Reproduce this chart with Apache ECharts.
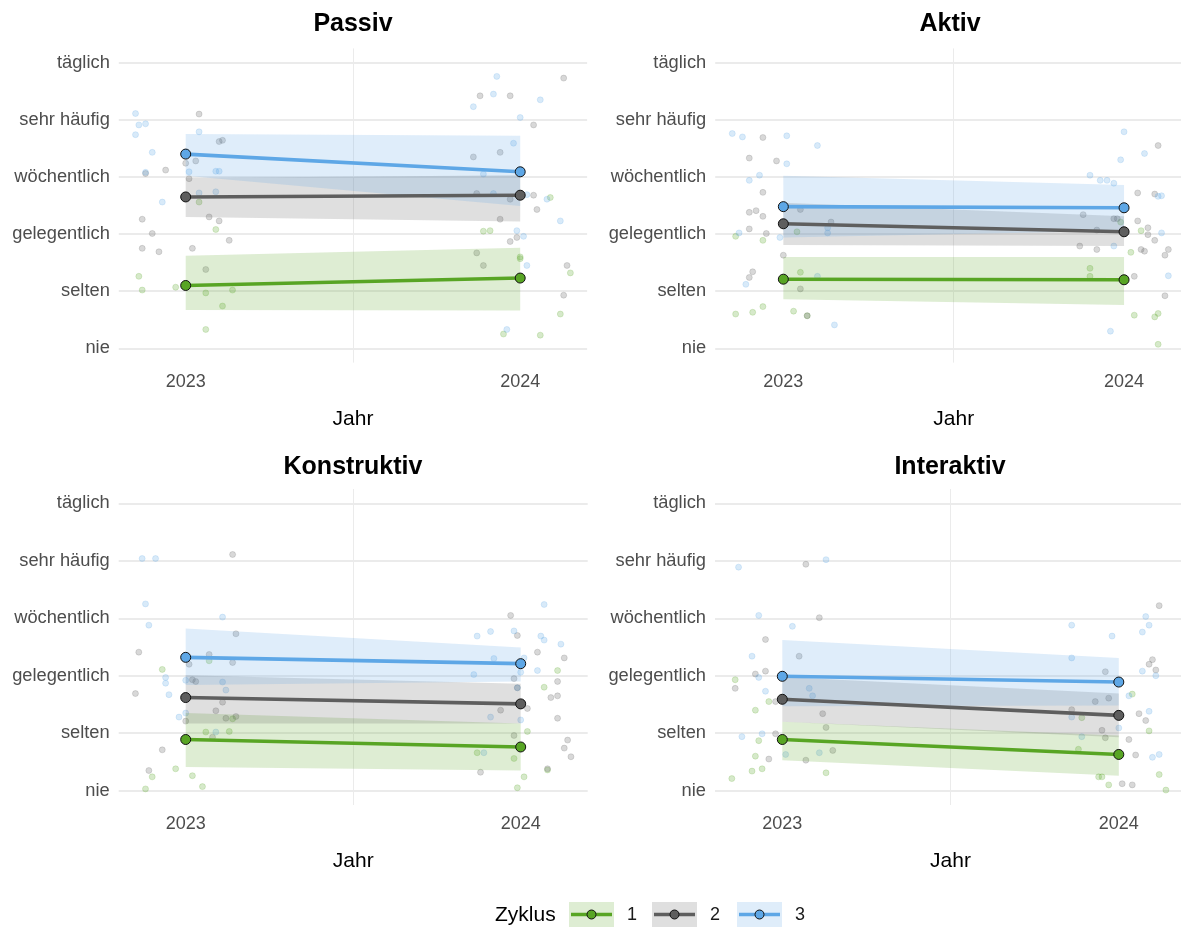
<!DOCTYPE html>
<html>
<head>
<meta charset="utf-8">
<script src="https://cdn.jsdelivr.net/npm/echarts@6/dist/echarts.min.js"></script>
<style>
  html, body { margin: 0; padding: 0; background: #ffffff; }
  #chart { width: 1181px; height: 928px; }
</style>
</head>
<body>
<div id="chart"></div>
<script>
// Frequency scale (1 = nie ... 6 = täglich)
const levels = ['nie', 'selten', 'gelegentlich', 'wöchentlich', 'sehr häufig', 'täglich'];
const years = [2023, 2024];
const cycles = ['1', '2', '3'];
const panelTitles = ['Passiv', 'Aktiv', 'Konstruktiv', 'Interaktiv'];

// Model estimates per cycle (rows: Zyklus 1, 2, 3; columns: 2023, 2024)
const passivMean  = [[2.10, 2.23], [3.65, 3.68], [4.40, 4.09]];
const passivLower = [[1.67, 1.66], [3.30, 3.22], [4.02, 3.49]];
const passivUpper = [[2.62, 2.76], [3.98, 4.03], [4.75, 4.72]];

const aktivMean  = [[2.21, 2.20], [3.18, 3.04], [3.48, 3.46]];
const aktivLower = [[1.86, 1.76], [2.81, 2.79], [2.94, 3.06]];
const aktivUpper = [[2.60, 2.60], [3.55, 3.31], [4.02, 3.86]];

const konstrMean  = [[1.89, 1.76], [2.62, 2.51], [3.32, 3.21]];
const konstrLower = [[1.41, 1.35], [2.17, 2.17], [2.84, 2.90]];
const konstrUpper = [[2.35, 2.17], [3.01, 2.86], [3.82, 3.49]];

const interMean  = [[1.89, 1.63], [2.59, 2.31], [2.99, 2.89]];
const interLower = [[1.53, 1.26], [2.20, 1.93], [2.47, 2.48]];
const interUpper = [[2.20, 1.96], [2.98, 2.69], [3.62, 3.31]];

// Individual (jittered) responses: [Jahr, Häufigkeit]
const passivPoints1 = [[2022.86,2.26],[2022.87,2.02],[2022.97,2.07],[2023.04,3.56],[2023.09,3.08],[2023.06,1.97],[2023.11,1.74],[2023.14,2.02],[2023.06,1.33],[2023.89,3.05],[2023.91,3.06],[2024.09,3.64],[2024.00,2.60],[2024.00,2.57],[2024.15,2.32],[2024.12,1.60],[2023.95,1.25],[2024.06,1.23]];
const passivPoints2 = [[2023.04,5.10],[2023.10,4.62],[2023.11,4.64],[2023.00,4.24],[2023.03,4.28],[2022.88,4.06],[2022.94,4.12],[2023.01,3.97],[2022.87,3.26],[2022.90,3.01],[2022.87,2.75],[2022.92,2.69],[2023.02,2.75],[2023.07,3.30],[2023.10,3.23],[2023.13,2.89],[2023.06,2.38],[2023.88,5.42],[2023.97,5.42],[2024.13,5.73],[2024.04,4.91],[2023.94,4.43],[2023.86,4.35],[2023.87,3.71],[2023.97,3.61],[2024.04,3.68],[2024.05,3.43],[2023.94,3.26],[2023.97,2.87],[2023.99,2.94],[2023.87,2.67],[2023.89,2.45],[2024.14,2.45],[2024.13,1.93]];
const passivPoints3 = [[2022.85,5.11],[2022.86,4.91],[2022.88,4.93],[2022.85,4.74],[2022.90,4.43],[2022.88,4.08],[2022.93,3.56],[2023.04,4.79],[2023.01,4.09],[2023.09,4.10],[2023.10,4.10],[2023.04,3.72],[2023.09,3.74],[2023.93,5.76],[2023.92,5.45],[2023.86,5.23],[2024.00,5.04],[2024.06,5.35],[2023.98,4.59],[2023.89,4.05],[2023.92,3.71],[2024.02,3.69],[2024.08,3.61],[2024.12,3.23],[2023.99,3.06],[2024.01,2.96],[2024.02,2.45],[2023.96,1.33]];

const aktivPoints1 = [[2022.86,2.96],[2022.94,2.89],[2023.04,3.04],[2023.05,2.33],[2022.86,1.60],[2022.91,1.63],[2022.94,1.73],[2023.03,1.65],[2023.07,1.57],[2023.90,2.40],[2023.90,2.26],[2024.05,3.06],[2024.02,2.68],[2024.03,1.58],[2024.09,1.55],[2024.10,1.61],[2024.10,1.07],[2023.99,3.21]];
const aktivPoints2 = [[2022.94,4.69],[2022.90,4.33],[2022.98,4.28],[2022.94,3.73],[2022.90,3.38],[2022.92,3.41],[2022.94,3.31],[2022.90,3.09],[2022.95,3.01],[2023.05,3.43],[2023.14,3.21],[2023.00,2.63],[2022.91,2.34],[2022.90,2.24],[2023.05,2.04],[2023.07,1.57],[2024.10,4.55],[2024.04,3.72],[2024.09,3.70],[2023.88,3.34],[2023.97,3.27],[2023.98,3.27],[2024.04,3.23],[2024.07,3.11],[2024.07,2.99],[2024.09,2.89],[2023.87,2.79],[2023.92,2.73],[2024.05,2.73],[2024.06,2.70],[2024.13,2.73],[2024.12,2.63],[2024.03,2.26],[2024.12,1.92],[2023.92,3.07]];
const aktivPoints3 = [[2022.85,4.76],[2022.88,4.70],[2023.01,4.72],[2023.10,4.55],[2023.01,4.23],[2022.93,4.03],[2022.90,3.94],[2022.87,3.02],[2022.99,2.94],[2023.13,3.11],[2023.13,3.02],[2023.10,2.26],[2022.89,2.12],[2023.15,1.41],[2024.00,4.79],[2023.99,4.30],[2024.06,4.41],[2023.90,4.03],[2023.93,3.94],[2023.95,3.94],[2023.97,3.89],[2024.11,3.67],[2024.10,3.66],[2024.11,3.02],[2023.97,2.79],[2024.13,2.27],[2023.96,1.30]];

const konstrPoints1 = [[2022.93,3.11],[2023.07,3.26],[2023.06,2.02],[2023.13,2.03],[2023.14,2.25],[2022.97,1.38],[2023.02,1.26],[2022.90,1.24],[2022.88,1.03],[2023.05,1.07],[2023.87,1.66],[2023.98,1.56],[2024.11,3.09],[2024.07,2.80],[2024.02,2.03],[2024.01,1.24],[2023.99,1.05],[2024.08,1.36]];
const konstrPoints2 = [[2023.14,5.11],[2022.86,3.41],[2022.85,2.69],[2023.15,3.73],[2023.07,3.37],[2023.01,3.20],[2023.02,2.93],[2023.03,2.90],[2023.14,3.23],[2023.09,2.39],[2023.11,2.54],[2023.12,2.26],[2023.15,2.29],[2023.00,2.21],[2023.08,1.93],[2022.93,1.71],[2022.89,1.35],[2023.97,4.05],[2023.99,3.70],[2024.05,3.41],[2024.13,3.31],[2024.11,2.90],[2024.11,2.65],[2024.09,2.62],[2023.98,2.95],[2023.99,2.79],[2023.94,2.40],[2024.02,2.43],[2024.11,2.26],[2024.14,1.88],[2024.13,1.74],[2024.15,1.59],[2023.98,1.96],[2023.88,1.32],[2024.08,1.38]];
const konstrPoints3 = [[2022.87,5.04],[2022.91,5.04],[2022.88,4.25],[2022.89,3.88],[2023.11,4.02],[2022.94,2.97],[2022.94,2.87],[2022.95,2.67],[2023.00,2.92],[2023.11,2.89],[2023.12,2.75],[2023.00,2.35],[2022.98,2.28],[2023.09,2.02],[2023.87,3.69],[2023.91,3.77],[2023.98,3.78],[2024.06,3.69],[2024.07,3.62],[2024.12,3.55],[2024.07,4.24],[2023.92,3.30],[2023.86,3.02],[2024.00,3.06],[2023.99,2.79],[2023.91,2.28],[2024.00,2.23],[2023.89,1.66],[2024.05,3.09],[2024.01,3.31]];

const interPoints1 = [[2022.86,2.93],[2022.92,2.40],[2022.96,2.55],[2022.93,1.87],[2022.92,1.60],[2022.91,1.34],[2022.94,1.38],[2022.85,1.21],[2023.13,1.31],[2024.04,2.68],[2024.09,2.04],[2023.88,1.72],[2023.94,1.24],[2023.95,1.24],[2023.97,1.10],[2024.12,1.28],[2024.14,1.01],[2023.89,2.27]];
const interPoints2 = [[2023.07,4.94],[2023.11,4.01],[2022.95,3.63],[2023.05,3.34],[2022.92,3.03],[2022.95,3.08],[2022.86,2.78],[2022.98,2.55],[2023.12,2.34],[2023.13,2.10],[2022.98,1.99],[2022.96,1.55],[2023.07,1.53],[2023.15,1.70],[2024.12,4.22],[2024.10,3.28],[2024.09,3.20],[2024.11,3.10],[2023.96,3.07],[2023.93,2.55],[2023.97,2.61],[2023.86,2.41],[2024.06,2.34],[2024.08,2.22],[2023.95,2.05],[2023.96,1.92],[2024.03,1.89],[2024.05,1.62],[2024.01,1.12],[2024.04,1.10]];
const interPoints3 = [[2022.87,4.89],[2023.13,5.02],[2022.93,4.05],[2023.03,3.86],[2022.91,3.34],[2022.93,2.97],[2022.95,2.73],[2023.08,2.78],[2023.09,2.65],[2022.88,1.94],[2022.94,1.99],[2023.01,1.63],[2023.11,1.66],[2023.86,3.88],[2023.98,3.69],[2023.86,3.31],[2024.08,4.03],[2024.09,3.88],[2024.07,3.76],[2024.07,3.08],[2024.11,3.00],[2024.03,2.65],[2024.09,2.38],[2023.86,2.28],[2024.00,2.09],[2023.89,1.94],[2024.10,1.58],[2024.12,1.63]];

// Colours per Zyklus
const cycleColors = ['#58a524', '#5e5e5e', '#5ea7e6'];
const bandColors  = ['rgba(88,165,36,0.2)', 'rgba(94,94,94,0.2)', 'rgba(94,167,230,0.2)'];
const pointColors = ['rgba(88,165,36,0.3)', 'rgba(94,94,94,0.3)', 'rgba(94,167,230,0.3)'];

const panels = [
  { mean: passivMean, lower: passivLower, upper: passivUpper, points: [passivPoints1, passivPoints2, passivPoints3] },
  { mean: aktivMean,  lower: aktivLower,  upper: aktivUpper,  points: [aktivPoints1, aktivPoints2, aktivPoints3] },
  { mean: konstrMean, lower: konstrLower, upper: konstrUpper, points: [konstrPoints1, konstrPoints2, konstrPoints3] },
  { mean: interMean,  lower: interLower,  upper: interUpper,  points: [interPoints1, interPoints2, interPoints3] }
];

// Panel layout (pixels); the right-hand panels run slightly past the canvas edge
const gridBoxes = [
  { left: 118.8, top: 48.4, width: 468.3, height: 314.2 },
  { left: 715.2, top: 48.4, width: 477.0, height: 314.2 },
  { left: 118.7, top: 489.0, width: 469.0, height: 316.0 },
  { left: 715.0, top: 489.0, width: 471.1, height: 316.0 }
];
const titleCenters = [[353, 12], [950, 12], [353, 455], [950, 455]];

const FONT = '"Liberation Sans", Arial, sans-serif';
const TRANSPARENT = 'rgba(0,0,0,0)';

const grids = [], xAxes = [], yAxes = [], series = [], titles = [];

// x ticks every 0.1 from 2022.8: only 2023.5 carries a (minor) grid line
const xLineColors = [];
for (let i = 0; i < 15; i++) xLineColors.push(i === 7 ? '#ebebeb' : TRANSPARENT);

panels.forEach((p, i) => {
  grids.push(Object.assign({ containLabel: false, outerBoundsMode: 'none' }, gridBoxes[i]));
  titles.push({
    text: panelTitles[i], left: titleCenters[i][0], top: titleCenters[i][1], textAlign: 'center',
    padding: 0,
    textStyle: { fontFamily: FONT, fontWeight: 'bold', fontSize: 25, color: '#000' }
  });
  xAxes.push({
    type: 'value', gridIndex: i, min: 2022.8, max: 2024.2, interval: 0.1,
    name: 'Jahr', nameLocation: 'middle', nameGap: 46,
    nameTextStyle: { fontFamily: FONT, fontSize: 21, color: '#000' },
    axisLine: { show: false }, axisTick: { show: false },
    axisLabel: {
      margin: 10, fontFamily: FONT, fontSize: 18, color: '#4d4d4d',
      formatter: v => years.some(y => Math.abs(v - y) < 1e-6) ? String(Math.round(v)) : ''
    },
    splitLine: { show: true, lineStyle: { color: xLineColors, width: 1 } }
  });
  yAxes.push({
    type: 'value', gridIndex: i, min: 0.75, max: 6.25, interval: 0.25,
    axisLine: { show: false }, axisTick: { show: false },
    axisLabel: {
      margin: 9, fontFamily: FONT, fontSize: 18.3, color: '#4d4d4d',
      formatter: v => {
        const r = Math.round(v);
        return Math.abs(v - r) < 1e-6 && r >= 1 && r <= 6 ? levels[r - 1] : '';
      }
    },
    splitLine: { show: true, lineStyle: { color: [TRANSPARENT, '#ebebeb', TRANSPARENT, TRANSPARENT], width: 1.8 } }
  });

  // jittered individual answers
  cycles.forEach((c, k) => {
    series.push({
      type: 'scatter', name: c, xAxisIndex: i, yAxisIndex: i, data: p.points[k],
      symbol: 'circle', symbolSize: 6, silent: true, z: 1,
      itemStyle: { color: pointColors[k], borderColor: pointColors[k], borderWidth: 0.8 }
    });
  });

  // confidence bands
  cycles.forEach((c, k) => {
    series.push({
      type: 'custom', name: c, xAxisIndex: i, yAxisIndex: i, silent: true, z: 2,
      data: [[years[0], p.lower[k][0], p.upper[k][0], years[1], p.lower[k][1], p.upper[k][1]]],
      encode: { x: [0, 3], y: [1, 2, 4, 5] },
      renderItem: (params, api) => {
        const a = api.coord([api.value(0), api.value(1)]);
        const b = api.coord([api.value(3), api.value(4)]);
        const d = api.coord([api.value(3), api.value(5)]);
        const e = api.coord([api.value(0), api.value(2)]);
        return { type: 'polygon', shape: { points: [a, b, d, e] }, style: { fill: bandColors[k] } };
      }
    });
  });

  // estimated trend lines
  cycles.forEach((c, k) => {
    series.push({
      type: 'line', name: c, xAxisIndex: i, yAxisIndex: i, z: 3,
      data: years.map((y, j) => [y, p.mean[k][j]]),
      symbol: 'circle', symbolSize: 10, showSymbol: true,
      lineStyle: { color: cycleColors[k], width: 3.6 },
      itemStyle: { color: cycleColors[k], borderColor: '#111', borderWidth: 1 }
    });
  });
});

// Legend (Zyklus)
const legendGraphics = [
  { type: 'text', left: 495, top: 905, style: { text: 'Zyklus', font: '21px ' + FONT, fill: '#000' } }
];
const keyX = [569, 652, 737];
cycles.forEach((c, k) => {
  const x = keyX[k];
  legendGraphics.push(
    { type: 'rect', shape: { x: x, y: 902, width: 45, height: 25 }, style: { fill: bandColors[k] } },
    { type: 'line', shape: { x1: x + 2, y1: 914.5, x2: x + 43, y2: 914.5 }, style: { stroke: cycleColors[k], lineWidth: 3.6 } },
    { type: 'circle', shape: { cx: x + 22.5, cy: 914.5, r: 4.5 }, style: { fill: cycleColors[k], stroke: '#111', lineWidth: 1 } },
    { type: 'text', left: x + 58, top: 906, style: { text: c, font: '18px ' + FONT, fill: '#1a1a1a' } }
  );
});

const chart = echarts.init(document.getElementById('chart'), null, { renderer: 'canvas' });
chart.setOption({
  animation: false,
  backgroundColor: '#ffffff',
  title: titles,
  grid: grids,
  xAxis: xAxes,
  yAxis: yAxes,
  series: series,
  graphic: legendGraphics
});
</script>
</body>
</html>
